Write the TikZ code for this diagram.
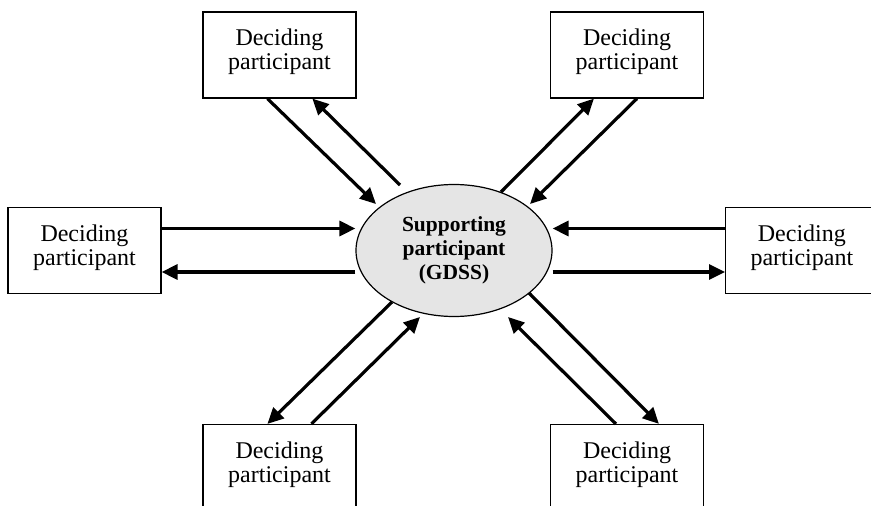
\documentclass[tikz,border=0pt]{standalone}
\usepackage{fontspec}
\setmainfont{Liberation Serif}
\usetikzlibrary{arrows.meta,calc,shapes.geometric}

\tikzset{
  dbox/.style={draw, line width=1.2pt, fill=white, minimum width=153pt,
    minimum height=86pt, inner sep=0pt, align=center, text depth=11pt,
    font=\fontsize{24}{24}\selectfont},
  hub/.style={ellipse, draw, line width=1.2pt, fill=gray!20,
    minimum width=196pt, minimum height=132pt, inner sep=0pt, align=center,
    font=\fontsize{21.5}{24}\selectfont\bfseries},
  flow/.style={line width=3.2pt, -{Triangle[length=16pt,width=15pt]}}
}

\begin{document}
\begin{tikzpicture}[x=1pt, y=-1pt]
  \useasboundingbox (0,0) rectangle (871,506);
  \clip (0,0) rectangle (871,506);

  % central decision support system
  \node[hub] (gdss) at (454,250.5) {Supporting\\participant\\(GDSS)};

  % deciding participants around it
  \node[dbox] (tl) at (279.5,55)    {Deciding\\participant};
  \node[dbox] (tr) at (627,55)      {Deciding\\participant};
  \node[dbox] (lf) at (84.5,250.5)  {Deciding\\participant};
  \node[dbox, minimum width=145.5pt, anchor=west] (rt) at (725,250.5)
    {\hspace*{7pt}Deciding\\\hspace*{7pt}participant};
  \node[dbox] (bl) at (279.5,467.5) {Deciding\\participant};
  \node[dbox] (br) at (627,467.5)   {Deciding\\participant};

  % end points of the exchanges on the ellipse side
  \coordinate (g-tl-in)  at (376,204);
  \coordinate (g-tl-out) at (400,185);
  \coordinate (g-tr-out) at (501,192);
  \coordinate (g-tr-in)  at (530,204);
  \coordinate (g-bl-out) at (392,302);
  \coordinate (g-bl-in)  at (420,317);
  \coordinate (g-br-out) at (529,293);
  \coordinate (g-br-in)  at (508,317);

  % top left
  \draw[flow] ($(tl.south west)+(65,0)$) -- (g-tl-in);
  \draw[flow] (g-tl-out) -- ($(tl.south west)+(110,0)$);
  % top right
  \draw[flow] (g-tr-out) -- ($(tr.south west)+(44,0)$);
  \draw[flow] ($(tr.south west)+(87,0)$) -- (g-tr-in);
  % left
  \draw[flow] ($(lf.east)+(0,-22)$) -- ($(gdss.west)+(0,-22)$);
  \draw[flow] ($(gdss.west)+(0,21.5)$) -- ($(lf.east)+(0,21.5)$);
  % right
  \draw[flow] ($(rt.west)+(0,-22)$) -- ($(gdss.east)+(0,-22)$);
  \draw[flow] ($(gdss.east)+(0,21.5)$) -- ($(rt.west)+(0,21.5)$);
  % bottom left
  \draw[flow] (g-bl-out) -- ($(bl.north west)+(65,0)$);
  \draw[flow] ($(bl.north west)+(109,0)$) -- (g-bl-in);
  % bottom right
  \draw[flow] (g-br-out) -- ($(br.north west)+(109,0)$);
  \draw[flow] ($(br.north west)+(66,0)$) -- (g-br-in);
\end{tikzpicture}
\end{document}
